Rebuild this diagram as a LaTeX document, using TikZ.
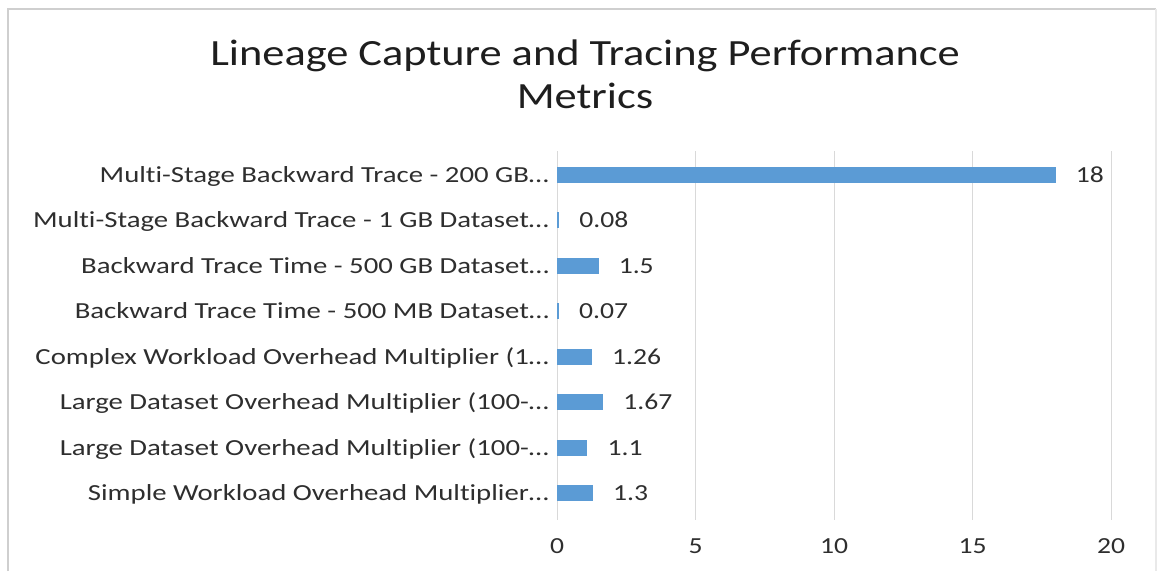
\documentclass[tikz,border=0pt]{standalone}
\usepackage{fontspec}
\setmainfont{Carlito}[FakeStretch=1.2,Ligatures=NoCommon]
\newfontfamily\catfont{Carlito}[FakeStretch=1.25,Ligatures=NoCommon]
\definecolor{barblue}{HTML}{5B9BD5}
\definecolor{gridgray}{HTML}{D9D9D9}
\definecolor{framegray}{HTML}{CFCFCF}
\definecolor{textgray}{HTML}{2E2E2E}
\definecolor{titlegray}{HTML}{1E1E1E}
\begin{document}
\begin{tikzpicture}[x=1pt,y=-1pt,
  charttitle/.style={font=\fontsize{37}{42}\selectfont, text=titlegray, anchor=base, inner sep=0pt},
  catlabel/.style={font=\catfont\fontsize{23}{27}\selectfont, text=textgray, anchor=base east, inner sep=0pt},
  vallabel/.style={font=\fontsize{23}{27}\selectfont, text=textgray, anchor=base west, inner sep=0pt},
  ticklabel/.style={font=\fontsize{23}{27}\selectfont, text=textgray, anchor=base, inner sep=0pt},
  gridline/.style={draw=gridgray, line width=1pt},
  databar/.style={fill=barblue, draw=none}]
% canvas and chart frame
\useasboundingbox (0,0) rectangle (1158,571);
\fill[white] (0,0) rectangle (1158,571);
\draw[framegray, line width=2pt] (8,571) -- (8,9) -- (1156,9);
\draw[framegray!45, line width=1.5pt] (1156,9) -- (1156,571);
% title
\node[charttitle] (title1) at (585,65) {Lineage Capture and Tracing Performance};
\node[charttitle] (title2) at (585,108) {Metrics};
% vertical grid lines and value-axis tick labels (0 at x=557, 27.7 per unit)
\foreach \v in {0,5,10,15,20} {
  \pgfmathsetmacro\xx{557+\v*27.7}
  \draw[gridline] (\xx,151) -- (\xx,520);
  \node[ticklabel] (tick\v) at (\xx,553) {\v};
}
% bars, category labels and value labels
\foreach \i/\val/\lab in {
  1/18/{Multi-Stage Backward Trace - 200 GB…},
  2/0.08/{Multi-Stage Backward Trace - 1 GB Dataset…},
  3/1.5/{Backward Trace Time - 500 GB Dataset…},
  4/0.07/{Backward Trace Time - 500 MB Dataset…},
  5/1.26/{Complex Workload Overhead Multiplier (1…},
  6/1.67/{Large Dataset Overhead Multiplier (100-…},
  7/1.1/{Large Dataset Overhead Multiplier (100-…},
  8/1.3/{Simple Workload Overhead Multiplier…}} {
  \pgfmathsetmacro\yc{174.5+45.5*(\i-1)}
  \pgfmathsetmacro\xe{557+\val*27.7}
  \fill[databar] (557,\yc-8) rectangle (\xe,\yc+8);
  \node[catlabel] (cat\i) at (549,\yc+7.5) {\lab};
  \node[vallabel] (val\i) at (\xe+20,\yc+7.5) {\val};
}
\end{tikzpicture}
\end{document}
